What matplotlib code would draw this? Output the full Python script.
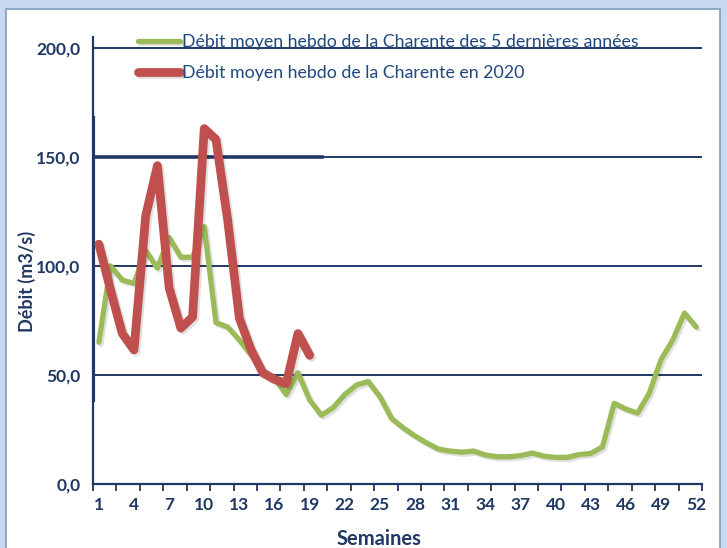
import matplotlib
matplotlib.use("Agg")
import matplotlib.pyplot as plt
import matplotlib.patheffects as pe
from matplotlib.patches import Rectangle
from matplotlib.ticker import FuncFormatter, MultipleLocator

plt.rcParams['font.family'] = ['Lato', 'DejaVu Sans']

#--- Data
weeks = list(range(1, 53))
moyenne_5ans = [65, 100, 93.5, 92, 107, 99, 113, 104, 104, 118,
                74, 72, 66, 59, 52, 48.6, 41, 51, 38.5, 31.5,
                35, 41, 45.4, 47, 40, 30, 25.7, 22, 18.8, 16,
                15.1, 14.6, 15.1, 13.3, 12.5, 12.5, 13, 14.2, 12.8, 12.2,
                12.2, 13.5, 14, 17, 37, 34.4, 32.5, 41.7, 57, 66,
                78.4, 72]
weeks_2020 = list(range(1, 20))
debit_2020 = [110, 89, 69, 61.5, 123, 146, 90, 71.5, 76.6, 163,
              158, 121, 76, 61.5, 51, 48, 46, 69, 59]

label_5ans = "Débit moyen hebdo de la Charente des 5 dernières années"
label_2020 = "Débit moyen hebdo de la Charente en 2020"
y_ticks = [0, 50, 100, 150, 200]
x_labels = list(range(1, 53, 3))

navy = "#1f3864"
green = "#9bbb59"
red = "#c0504d"

fig = plt.figure(figsize=(7.27, 5.48), dpi=100)
fig.patch.set_facecolor("#c6d9f1")
fig.patches.append(Rectangle((6 / 727, -0.01), 714 / 727, 1 - 9 / 548 + 0.01,
                             transform=fig.transFigure, facecolor="white",
                             edgecolor="#7f9cc0", linewidth=1.2, zorder=-10))

ax = fig.add_axes([93 / 727, 64 / 548, 609 / 727, 447 / 548])
ax.set_facecolor("none")

shadow = [pe.SimpleLineShadow(offset=(1.5, -1.5), alpha=0.12), pe.Normal()]
ax.plot(weeks, moyenne_5ans, color=green, linewidth=3.8,
        solid_joinstyle="round", solid_capstyle="round", label=label_5ans,
        path_effects=shadow, zorder=3)
ax.plot(weeks_2020, debit_2020, color=red, linewidth=6.3,
        solid_capstyle="round", solid_joinstyle="round", label=label_2020,
        path_effects=shadow, zorder=4)

ax.set_xlim(0.5, 52.5)
ax.set_ylim(0, 205)

# gridlines
for v in y_ticks[1:]:
    ax.axhline(v, color=navy, linewidth=1.4, zorder=1)
ax.axhline(150, xmax=(322 - 93) / 609, color=navy, linewidth=2.6, zorder=1)

for s in ["top", "right"]:
    ax.spines[s].set_visible(False)
ax.spines["left"].set_color(navy)
ax.spines["left"].set_linewidth(1.6)
ax.spines["bottom"].set_color(navy)
ax.spines["bottom"].set_linewidth(1.6)
ax.axvline(0.5, ymin=(484 - 400) / 447, ymax=(484 - 118) / 447,
           color=navy, linewidth=3.0, zorder=2)

ax.set_yticks(y_ticks)
ax.yaxis.set_major_formatter(FuncFormatter(lambda v, p: f"{v:.1f}".replace(".", ",")))
ax.tick_params(axis="y", length=0, pad=9, labelsize=12.5, labelcolor=navy)
for t in ax.get_yticklabels():
    t.set_fontweight("bold")

ax.set_xticks(x_labels)
ax.set_xticklabels([str(w) for w in x_labels], fontweight="bold")
ax.tick_params(axis="x", which="major", length=0, pad=9, labelsize=12.5, labelcolor=navy)
ax.xaxis.set_minor_locator(MultipleLocator(2, offset=0.5))
ax.tick_params(axis="x", which="minor", length=5, width=1.3, color=navy, direction="out")

fig.text(379 / 727, 1 - 539 / 548, "Semaines", ha="center", va="center",
         fontsize=14.5, fontweight="bold", color=navy)
fig.text(27 / 727, 1 - 281 / 548, "Débit (m3/s)", ha="center", va="center",
         rotation=90, fontsize=13, fontweight="bold", color=navy)

ax.legend(loc="upper left", bbox_to_anchor=(129 / 727, 1 - 25 / 548),
          bbox_transform=fig.transFigure, frameon=False, fontsize=12.8,
          handlelength=2.35, handletextpad=0.15, labelspacing=0.85, borderpad=0,
          labelcolor="#1f497d")

fig.savefig("out.png", dpi=100, facecolor=fig.get_facecolor())
